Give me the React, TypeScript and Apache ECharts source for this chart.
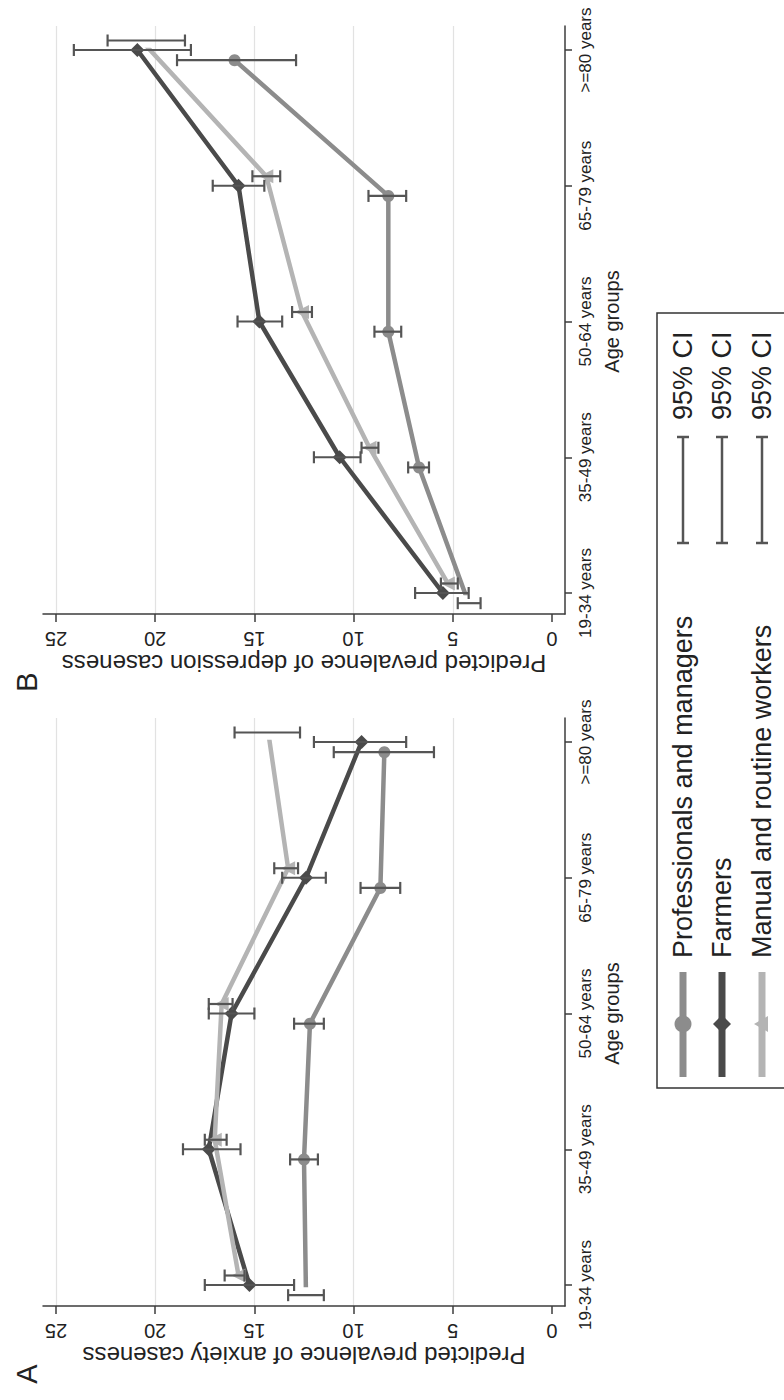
import React, { useEffect, useRef } from "react";
import * as echarts from "echarts";

// ---------- data ----------
const categories = ["19-34 years", "35-49 years", "50-64 years", "65-79 years", ">=80 years"];
const seriesNames = ["Professionals and managers", "Farmers", "Manual and routine workers"];
const panelLetters = ["A", "B"];
const valueTitles = [
  "Predicted prevalence of anxiety caseness",
  "Predicted prevalence of depression caseness",
];
const categoryTitle = "Age groups";
const ciLabel = "95% CI";

// Panel A: anxiety
const anxProf = [12.4, 12.5, 12.2, 8.65, 8.45];
const anxProfLo = [11.5, 11.8, 11.5, 7.65, 5.95];
const anxProfHi = [13.3, 13.2, 13.0, 9.65, 11.0];
const anxFarm = [15.25, 17.3, 16.15, 12.4, 9.6];
const anxFarmLo = [13.0, 15.7, 15.0, 11.4, 7.35];
const anxFarmHi = [17.5, 18.6, 17.3, 13.6, 12.0];
const anxMan = [15.8, 17.0, 16.65, 13.3, 14.3];
const anxManLo = [15.5, 16.4, 16.1, 12.8, 12.7];
const anxManHi = [16.5, 17.5, 17.3, 14.0, 16.0];

// Panel B: depression
const depProf = [4.2, 6.7, 8.25, 8.25, 16.0];
const depProfLo = [3.6, 6.2, 7.6, 7.35, 12.9];
const depProfHi = [4.75, 7.25, 8.95, 9.25, 18.9];
const depFarm = [5.5, 10.7, 14.75, 15.8, 20.9];
const depFarmLo = [4.2, 9.65, 13.6, 14.5, 18.2];
const depFarmHi = [6.9, 12.0, 15.85, 17.1, 24.1];
const depMan = [5.25, 9.2, 12.6, 14.4, 20.7];
const depManLo = [4.75, 8.75, 12.1, 13.7, 18.5];
const depManHi = [5.6, 9.6, 13.1, 15.1, 22.4];

// ---------- style ----------
const FONT = "'Liberation Sans', Arial, Helvetica, sans-serif";
const TEXT = "#222222";
const AXIS = "#3c3c3c";
const GRIDC = "#e2e2e2";
const CI = "#555555";
const colors = ["#8c8c8c", "#4a4a4a", "#b4b4b4"];
const symbols = ["circle", "diamond", "triangle"];
const symbolSizes = [12, 14, 14];
const symbolRotates = [0, 0, 90];
const dodge = [-0.075, 0, 0.07];

type Panel = {
  off: number;
  title: string;
  vals: number[][];
  lo: number[][];
  hi: number[][];
};

const panels: Panel[] = [
  {
    off: 0,
    title: valueTitles[1],
    vals: [depProf, depFarm, depMan],
    lo: [depProfLo, depFarmLo, depManLo],
    hi: [depProfHi, depFarmHi, depManHi],
  },
  {
    off: 692,
    title: valueTitles[0],
    vals: [anxProf, anxFarm, anxMan],
    lo: [anxProfLo, anxFarmLo, anxManLo],
    hi: [anxProfHi, anxFarmHi, anxManHi],
  },
];

function renderCI(params: any, api: any) {
  const y = api.value(2);
  const p1 = api.coord([api.value(0), y]);
  const p2 = api.coord([api.value(1), y]);
  const c = 6;
  const style = { stroke: CI, lineWidth: 2.2 };
  return {
    type: "group",
    children: [
      { type: "line", shape: { x1: p1[0], y1: p1[1], x2: p2[0], y2: p2[1] }, style },
      { type: "line", shape: { x1: p1[0], y1: p1[1] - c, x2: p1[0], y2: p1[1] + c }, style },
      { type: "line", shape: { x1: p2[0], y1: p2[1] - c, x2: p2[0], y2: p2[1] + c }, style },
    ],
  };
}

function buildOption() {
  const grid: any[] = [];
  const xAxis: any[] = [];
  const yAxis: any[] = [];
  const series: any[] = [];

  panels.forEach((p, pi) => {
    const s = pi * 3;
    grid.push({ left: 56, top: 50 + p.off, width: 496, height: 543, outerBoundsMode: "none" });
    grid.push({ left: 56, top: 26 + p.off, width: 496, height: 588, outerBoundsMode: "none" });
    grid.push({ left: 43, top: 26 + p.off, width: 522, height: 588, outerBoundsMode: "none" });

    xAxis.push({
      gridIndex: s, type: "value", min: 0, max: 25, inverse: true, show: false,
      axisLine: { onZero: false },
    });
    yAxis.push({
      gridIndex: s, type: "value", min: 0, max: 4, interval: 1, position: "right", offset: 13,
      axisLine: { show: false, onZero: false },
      axisTick: { show: true, length: 7, lineStyle: { color: AXIS, width: 1.5 } },
      axisLabel: {
        rotate: 90, margin: 12, fontSize: 17, color: TEXT, fontFamily: FONT,
        showMinLabel: true, showMaxLabel: true,
        formatter: (v: number) => categories[Math.round(v)] ?? "",
      },
      splitLine: { show: false },
      name: categoryTitle, nameLocation: "middle", nameRotate: 90, nameGap: 37,
      nameTextStyle: { fontSize: 20, color: TEXT, fontFamily: FONT },
    });

    xAxis.push({
      gridIndex: s + 1, type: "value", min: 0, max: 25, interval: 5, inverse: true, position: "bottom",
      axisLine: { show: false, onZero: false },
      axisTick: { show: true, length: 8, lineStyle: { color: AXIS, width: 1.5 } },
      axisLabel: {
        rotate: 180, margin: 15, fontSize: 20, color: TEXT, fontFamily: FONT,
        showMinLabel: true, showMaxLabel: true,
      },
      splitLine: { show: true, showMinLine: false, showMaxLine: true, lineStyle: { color: GRIDC, width: 1.2 } },
      name: p.title, nameLocation: "middle", nameRotate: 180, nameGap: 37,
      nameTextStyle: { fontSize: 24, color: TEXT, fontFamily: FONT },
    });
    yAxis.push({ gridIndex: s + 1, type: "value", min: 0, max: 1, show: false, axisLine: { onZero: false } });

    xAxis.push({
      gridIndex: s + 2, type: "value", min: 0, max: 1, position: "bottom",
      axisLine: { show: true, onZero: false, lineStyle: { color: AXIS, width: 1.5 } },
      axisTick: { show: false }, axisLabel: { show: false }, splitLine: { show: false },
    });
    yAxis.push({
      gridIndex: s + 2, type: "value", min: 0, max: 1, position: "right",
      axisLine: { show: true, onZero: false, lineStyle: { color: AXIS, width: 1.5 } },
      axisTick: { show: false }, axisLabel: { show: false }, splitLine: { show: false },
    });

    p.vals.forEach((vals, k) => {
      series.push({
        type: "line",
        name: seriesNames[k],
        xAxisIndex: s, yAxisIndex: s,
        data: vals.map((v, i) => [v, i + dodge[k]]),
        symbol: symbols[k], symbolSize: symbolSizes[k], symbolRotate: symbolRotates[k],
        showSymbol: true,
        lineStyle: { color: colors[k], width: 4.5 },
        itemStyle: { color: colors[k] },
        z: 2 + k * 0.1,
        silent: true,
      });
    });
    p.vals.forEach((vals, k) => {
      series.push({
        type: "custom",
        name: seriesNames[k] + " " + ciLabel,
        xAxisIndex: s, yAxisIndex: s,
        data: p.lo[k].map((l, i) => [l, p.hi[k][i], i + dodge[k]]),
        encode: { x: [0, 1], y: 2 },
        renderItem: renderCI,
        z: 5,
        silent: true,
      });
    });
  });

  const graphic: any[] = [];
  graphic.push({
    type: "rect", shape: { x: 657, y: 313, width: 200, height: 775 },
    style: { fill: "none", stroke: "#333333", lineWidth: 1.5 },
  });
  const legendX = [683, 722, 762];
  seriesNames.forEach((name, k) => {
    const cx = legendX[k];
    const my = 1024;
    graphic.push({
      type: "line", shape: { x1: cx, y1: 972, x2: cx, y2: 1077 },
      style: { stroke: colors[k], lineWidth: 7 },
    });
    if (k === 0) {
      graphic.push({ type: "circle", shape: { cx, cy: my, r: 8.5 }, style: { fill: colors[k] } });
    } else if (k === 1) {
      graphic.push({
        type: "polygon",
        shape: { points: [[cx, my - 9], [cx + 9, my], [cx, my + 9], [cx - 9, my]] },
        style: { fill: colors[k] },
      });
    } else {
      graphic.push({
        type: "polygon",
        shape: { points: [[cx - 8, my], [cx + 6, my - 8], [cx + 6, my + 8]] },
        style: { fill: colors[k] },
      });
    }
    graphic.push({
      type: "text", x: cx, y: 958, rotation: Math.PI / 2,
      style: {
        text: name, fontSize: 27, fontFamily: FONT, fill: TEXT,
        align: "left", verticalAlign: "middle", textAlign: "left", textVerticalAlign: "middle",
      },
    });
    graphic.push({
      type: "line", shape: { x1: cx, y1: 437, x2: cx, y2: 543 },
      style: { stroke: CI, lineWidth: 2.5 },
    });
    graphic.push({
      type: "line", shape: { x1: cx - 6, y1: 437, x2: cx + 6, y2: 437 },
      style: { stroke: CI, lineWidth: 2.5 },
    });
    graphic.push({
      type: "line", shape: { x1: cx - 6, y1: 543, x2: cx + 6, y2: 543 },
      style: { stroke: CI, lineWidth: 2.5 },
    });
    graphic.push({
      type: "text", x: cx, y: 420, rotation: Math.PI / 2,
      style: {
        text: ciLabel, fontSize: 27, fontFamily: FONT, fill: TEXT,
        align: "left", verticalAlign: "middle", textAlign: "left", textVerticalAlign: "middle",
      },
    });
  });

  const letterY = [1374, 682];
  panelLetters.forEach((L, i) => {
    graphic.push({
      type: "text", x: 27, y: letterY[i], rotation: Math.PI / 2,
      style: {
        text: L, fontSize: 29, fontFamily: FONT, fill: TEXT,
        align: "center", verticalAlign: "middle", textAlign: "center", textVerticalAlign: "middle",
      },
    });
  });

  return {
    animation: false,
    backgroundColor: "#ffffff",
    textStyle: { fontFamily: FONT },
    grid, xAxis, yAxis, series, graphic,
  };
}

export default function App() {
  const ref = useRef<HTMLDivElement>(null);
  useEffect(() => {
    if (!ref.current) return;
    const chart = echarts.init(ref.current, null, { renderer: "svg" });
    chart.setOption(buildOption() as any);
    return () => chart.dispose();
  }, []);
  return (
    <div
      ref={ref}
      style={{ position: "absolute", left: 0, top: 0, width: 784, height: 1400, background: "#fff" }}
    />
  );
}
